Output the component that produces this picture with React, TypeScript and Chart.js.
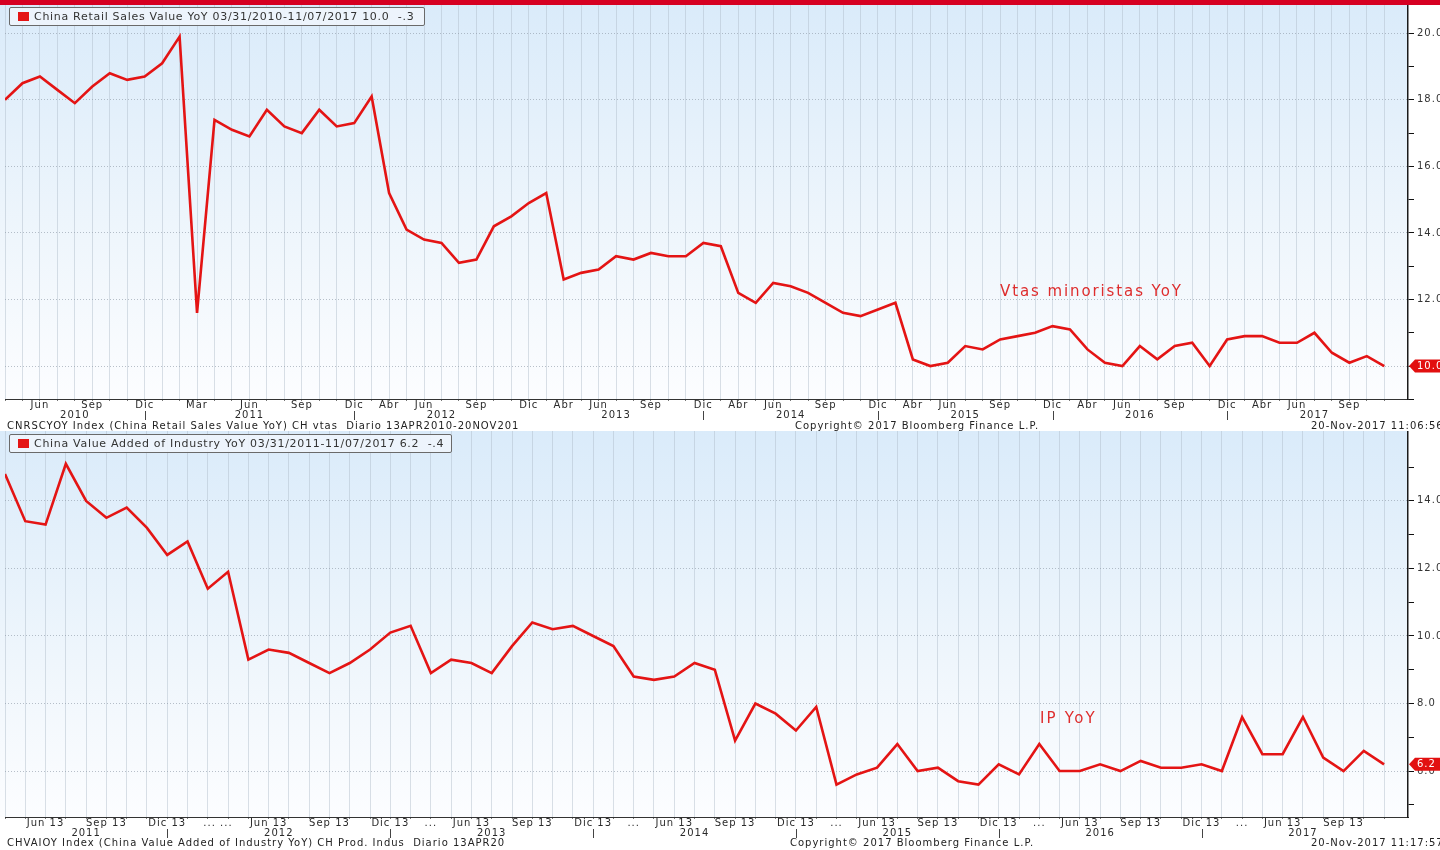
import React, { useEffect, useRef } from 'react';
import { Chart, registerables } from 'chart.js';

Chart.register(...registerables);

// ---------------- data: China retail sales YoY (monthly points) ----------------
const RETAIL_VALUES = [
  18.0, 18.5, 18.7, 18.3, 17.9, 18.4, 18.8, 18.6, 18.7, 19.1,
  19.9, 11.6, 17.4, 17.1, 16.9, 17.7, 17.2, 17.0, 17.7, 17.2,
  17.3, 18.1, 15.2, 14.1, 13.8, 13.7, 13.1, 13.2, 14.2, 14.5,
  14.9, 15.2, 12.6, 12.8, 12.9, 13.3, 13.2, 13.4, 13.3, 13.3,
  13.7, 13.6, 12.2, 11.9, 12.5, 12.4, 12.2, 11.9, 11.6, 11.5,
  11.7, 11.9, 10.2, 10.0, 10.1, 10.6, 10.5, 10.8, 10.9, 11.0,
  11.2, 11.1, 10.5, 10.1, 10.0, 10.6, 10.2, 10.6, 10.7, 10.0,
  10.8, 10.9, 10.9, 10.7, 10.7, 11.0, 10.4, 10.1, 10.3, 10.0,
];
const RETAIL_MONTH_AT = [2, 5, 8, 11, 14, 17, 20, 22, 24, 27, 30, 32, 34, 37, 40, 42, 44, 47, 50, 52, 54, 57, 60, 62, 64, 67, 70, 72, 74, 77];
const RETAIL_MONTH_LABELS = [
  'Jun', 'Sep', 'Dic', 'Mar', 'Jun', 'Sep', 'Dic',
  'Abr', 'Jun', 'Sep', 'Dic', 'Abr', 'Jun', 'Sep', 'Dic',
  'Abr', 'Jun', 'Sep', 'Dic', 'Abr', 'Jun', 'Sep', 'Dic',
  'Abr', 'Jun', 'Sep', 'Dic', 'Abr', 'Jun', 'Sep',
];
const RETAIL_YEAR_AT = [4, 14, 25, 35, 45, 55, 65, 75];
const RETAIL_YEAR_LABELS = ['2010', '2011', '2012', '2013', '2014', '2015', '2016', '2017'];
const RETAIL_YEAR_BREAKS = [8, 20, 40, 50, 60, 70];
const RETAIL_Y_TICKS = [9, 10, 11, 12, 13, 14, 15, 16, 17, 18, 19, 20];
const RETAIL_Y_RANGE = [9.01, 20.85];
const RETAIL_X_MAX = 80.36;

// ---------------- data: China value added of industry YoY ----------------
const IP_VALUES = [
  14.8, 13.4, 13.3, 15.1, 14.0, 13.5, 13.8, 13.2, 12.4, 12.8,
  11.4, 11.9, 9.3, 9.6, 9.5, 9.2, 8.9, 9.2, 9.6, 10.1,
  10.3, 8.9, 9.3, 9.2, 8.9, 9.7, 10.4, 10.2, 10.3, 10.0,
  9.7, 8.8, 8.7, 8.8, 9.2, 9.0, 6.9, 8.0, 7.7, 7.2,
  7.9, 5.6, 5.9, 6.1, 6.8, 6.0, 6.1, 5.7, 5.6, 6.2,
  5.9, 6.8, 6.0, 6.0, 6.2, 6.0, 6.3, 6.1, 6.1, 6.2,
  6.0, 7.6, 6.5, 6.5, 7.6, 6.4, 6.0, 6.6, 6.2,
];
const IP_MONTH_AT = [2, 5, 8, 10.5, 13, 16, 19, 21, 23, 26, 29, 31, 33, 36, 39, 41, 43, 46, 49, 51, 53, 56, 59, 61, 63, 66];
const IP_MONTH_LABELS = [
  'Jun 13', 'Sep 13', 'Dic 13', '... ...',
  'Jun 13', 'Sep 13', 'Dic 13', '...',
  'Jun 13', 'Sep 13', 'Dic 13', '...',
  'Jun 13', 'Sep 13', 'Dic 13', '...',
  'Jun 13', 'Sep 13', 'Dic 13', '...',
  'Jun 13', 'Sep 13', 'Dic 13', '...',
  'Jun 13', 'Sep 13',
];
const IP_YEAR_AT = [4, 13.5, 24, 34, 44, 54, 64];
const IP_YEAR_LABELS = ['2011', '2012', '2013', '2014', '2015', '2016', '2017'];
const IP_YEAR_BREAKS = [8, 19, 29, 39, 49, 59];
const IP_Y_TICKS = [5, 6, 7, 8, 9, 10, 11, 12, 13, 14, 15];
const IP_Y_RANGE = [4.64, 16.07];
const IP_X_MAX = 69.18;

const FONT = "'DejaVu Sans', Verdana, sans-serif";
const RED = 'rgb(228,20,20)';

interface PanelSpec {
  values: number[];
  monthAt: number[];
  monthLabels: string[];
  yearAt: number[];
  yearLabels: string[];
  breaks: number[];
  yTicks: number[];
  yRange: number[];
  xMax: number;
}

function buildChart(canvas: HTMLCanvasElement, s: PanelSpec): Chart {
  const idx = s.values.map((_, i) => i);
  const xTickValues = Array.from(new Set([...idx, ...s.monthAt, ...s.yearAt])).sort((a, b) => a - b);
  const labelFor = (v: number): string | string[] => {
    const mi = s.monthAt.indexOf(v);
    const yi = s.yearAt.indexOf(v);
    if (mi < 0 && yi < 0) return '';
    return [mi >= 0 ? s.monthLabels[mi] : '', yi >= 0 ? s.yearLabels[yi] : ''];
  };

  const bgPlugin = {
    id: 'bbgBackground',
    beforeDraw(chart: any) {
      const { ctx, chartArea: a } = chart;
      (ctx as any).letterSpacing = '1px';
      const g = ctx.createLinearGradient(0, a.top, 0, a.bottom);
      g.addColorStop(0, 'rgb(218,235,250)');
      g.addColorStop(0.6, 'rgb(239,246,252)');
      g.addColorStop(1, 'rgb(252,253,255)');
      ctx.save();
      ctx.fillStyle = g;
      ctx.fillRect(0, a.top, a.right, a.bottom - a.top);
      ctx.restore();
    },
  };

  const decoPlugin = {
    id: 'bbgDeco',
    afterDraw(chart: any) {
      const { ctx, chartArea: a, scales } = chart;
      const xs = scales.x;
      const ys = scales.y;
      ctx.save();
      ctx.strokeStyle = '#444';
      ctx.lineWidth = 1;
      s.breaks.forEach((b) => {
        const x = Math.round(xs.getPixelForValue(b)) + 0.5;
        ctx.beginPath();
        ctx.moveTo(x, a.bottom + 12);
        ctx.lineTo(x, a.bottom + 21);
        ctx.stroke();
      });
      const last = s.values[s.values.length - 1];
      const y = ys.getPixelForValue(last);
      const x0 = a.right + 1;
      ctx.fillStyle = 'rgb(226,16,16)';
      ctx.beginPath();
      ctx.moveTo(x0, y);
      ctx.lineTo(x0 + 6, y - 6.5);
      ctx.lineTo(chart.width, y - 6.5);
      ctx.lineTo(chart.width, y + 6.5);
      ctx.lineTo(x0 + 6, y + 6.5);
      ctx.closePath();
      ctx.fill();
      ctx.fillStyle = '#fff';
      ctx.font = `10px ${FONT}`;
      ctx.textBaseline = 'middle';
      ctx.textAlign = 'left';
      ctx.fillText(last.toFixed(1), x0 + 8, y + 0.5);
      ctx.restore();
    },
  };

  return new Chart(canvas, {
    type: 'line',
    data: {
      datasets: [
        {
          data: s.values.map((v, i) => ({ x: i, y: v })),
          borderColor: RED,
          borderWidth: 2.6,
          pointRadius: 0,
          pointHoverRadius: 0,
          tension: 0,
          fill: false,
        },
      ],
    },
    options: {
      responsive: false,
      animation: false,
      events: [],
      layout: { padding: { left: 5, right: 0, top: 0, bottom: 0 } },
      plugins: { legend: { display: false }, tooltip: { enabled: false } },
      scales: {
        x: {
          type: 'linear',
          min: 0,
          max: s.xMax,
          afterBuildTicks: (sc: any) => {
            sc.ticks = xTickValues.map((v) => ({ value: v }));
          },
          afterFit: (sc: any) => {
            sc.height = 33;
            sc.paddingLeft = 0;
            sc.paddingRight = 0;
          },
          ticks: {
            autoSkip: false,
            maxRotation: 0,
            minRotation: 0,
            padding: 0,
            color: '#2a2a2a',
            font: { family: FONT, size: 10, lineHeight: 0.95 },
            callback: (v: any) => labelFor(Number(v)),
          },
          grid: {
            color: (c: any) => (c.tick && Number.isInteger(c.tick.value) ? 'rgba(172,186,200,0.45)' : 'rgba(0,0,0,0)'),
            lineWidth: 1,
            tickLength: 2,
            tickColor: (c: any) => (c.tick && Number.isInteger(c.tick.value) ? '#777' : 'rgba(0,0,0,0)'),
          },
          border: { display: true, color: '#333', width: 1 },
        },
        y: {
          type: 'linear',
          position: 'right',
          min: s.yRange[0],
          max: s.yRange[1],
          afterBuildTicks: (sc: any) => {
            sc.ticks = s.yTicks.map((v) => ({ value: v }));
          },
          afterFit: (sc: any) => {
            sc.width = 32;
            sc.paddingTop = 0;
            sc.paddingBottom = 0;
          },
          ticks: {
            padding: 3,
            color: '#333',
            font: { family: FONT, size: 10 },
            callback: (v: any) => (Number(v) % 2 === 0 ? Number(v).toFixed(1) : ''),
          },
          grid: {
            color: (c: any) => (c.tick && c.tick.value % 2 === 0 ? 'rgba(140,152,165,0.6)' : 'rgba(0,0,0,0)'),
            tickLength: 6,
            tickColor: '#111',
            tickWidth: 1,
          },
          border: { display: true, color: '#1a1a1a', width: 1.5, dash: [1, 2] },
        },
      },
    } as any,
    plugins: [bgPlugin, decoPlugin],
  });
}

const txt = (left: number, centerY: number, size: number, color: string, spacing: number): React.CSSProperties => ({
  position: 'absolute',
  left,
  top: centerY - Math.round(size * 0.6),
  fontSize: size,
  lineHeight: `${Math.round(size * 1.2)}px`,
  color,
  whiteSpace: 'pre',
  fontFamily: FONT,
  letterSpacing: spacing,
});

function LegendBox({ left, top, width, text }: { left: number; top: number; width: number; text: string }) {
  return (
    <div
      style={{
        position: 'absolute',
        left,
        top,
        width,
        height: 17,
        border: '1px solid #6a6a6a',
        borderRadius: 2,
        background: 'rgba(238,245,252,0.9)',
        display: 'flex',
        alignItems: 'center',
        boxSizing: 'content-box',
      }}
    >
      <div style={{ width: 11, height: 9, background: RED, marginLeft: 8, marginRight: 5 }} />
      <span style={{ fontFamily: FONT, fontSize: 11, letterSpacing: 0.7, color: '#333', whiteSpace: 'pre' }}>{text}</span>
    </div>
  );
}

export default function App() {
  const topRef = useRef<HTMLCanvasElement>(null);
  const botRef = useRef<HTMLCanvasElement>(null);

  useEffect(() => {
    const c1 = buildChart(topRef.current!, {
      values: RETAIL_VALUES,
      monthAt: RETAIL_MONTH_AT,
      monthLabels: RETAIL_MONTH_LABELS,
      yearAt: RETAIL_YEAR_AT,
      yearLabels: RETAIL_YEAR_LABELS,
      breaks: RETAIL_YEAR_BREAKS,
      yTicks: RETAIL_Y_TICKS,
      yRange: RETAIL_Y_RANGE,
      xMax: RETAIL_X_MAX,
    });
    const c2 = buildChart(botRef.current!, {
      values: IP_VALUES,
      monthAt: IP_MONTH_AT,
      monthLabels: IP_MONTH_LABELS,
      yearAt: IP_YEAR_AT,
      yearLabels: IP_YEAR_LABELS,
      breaks: IP_YEAR_BREAKS,
      yTicks: IP_Y_TICKS,
      yRange: IP_Y_RANGE,
      xMax: IP_X_MAX,
    });
    return () => {
      c1.destroy();
      c2.destroy();
    };
  }, []);

  return (
    <div style={{ position: 'absolute', left: 0, top: 0, width: 1440, height: 850, overflow: 'hidden', background: '#fff' }}>
      <div style={{ position: 'absolute', left: 0, top: 0, width: 1440, height: 5, background: 'rgb(214,0,34)' }} />
      <canvas ref={topRef} width={1440} height={427} style={{ position: 'absolute', left: 0, top: 5, display: 'block' }} />
      <canvas ref={botRef} width={1440} height={419} style={{ position: 'absolute', left: 0, top: 431, display: 'block' }} />

      <LegendBox left={9} top={7} width={414} text="China Retail Sales Value YoY 03/31/2010-11/07/2017 10.0  -.3" />
      <LegendBox left={9} top={434} width={441} text="China Value Added of Industry YoY 03/31/2011-11/07/2017 6.2  -.4" />

      <div style={txt(1000, 291, 15, 'rgb(222,45,45)', 1.9)}>Vtas minoristas YoY</div>
      <div style={txt(1040, 718, 15, 'rgb(222,45,45)', 2.2)}>IP YoY</div>

      <div style={txt(7, 426, 10, '#222', 1)}>CNRSCYOY Index (China Retail Sales Value YoY) CH vtas  Diario 13APR2010-20NOV201</div>
      <div style={txt(795, 426, 10, '#222', 1)}>Copyright© 2017 Bloomberg Finance L.P.</div>
      <div style={txt(1311, 426, 10, '#222', 1)}>20-Nov-2017 11:06:56</div>

      <div style={txt(7, 843, 10, '#222', 1)}>CHVAIOY Index (China Value Added of Industry YoY) CH Prod. Indus  Diario 13APR20</div>
      <div style={txt(790, 843, 10, '#222', 1)}>Copyright© 2017 Bloomberg Finance L.P.</div>
      <div style={txt(1311, 843, 10, '#222', 1)}>20-Nov-2017 11:17:57</div>
    </div>
  );
}
